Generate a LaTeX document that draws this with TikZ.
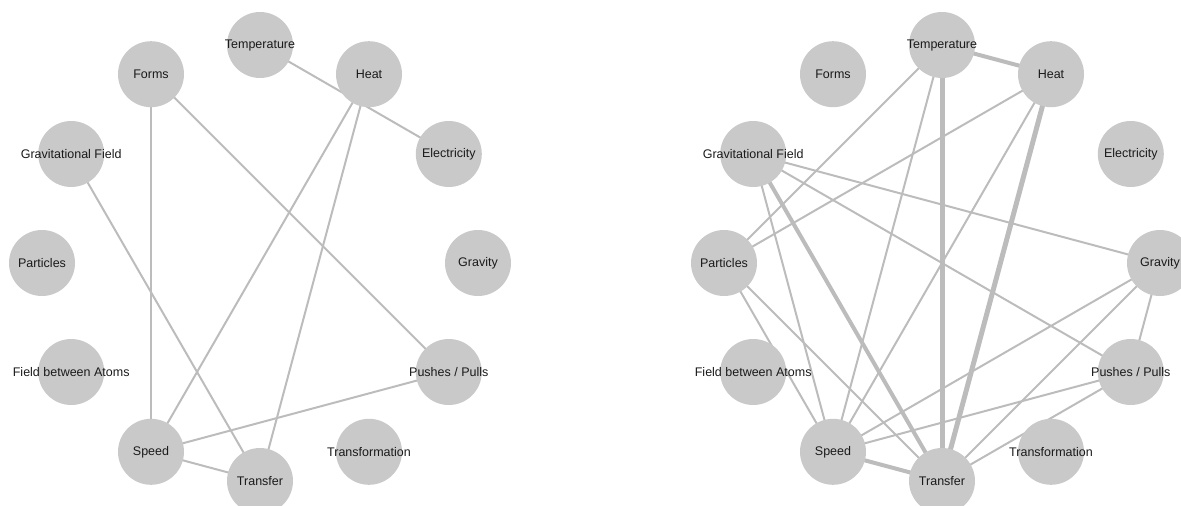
\documentclass[tikz,border=0pt]{standalone}
\usepackage{fontspec}
\setmainfont{Liberation Sans}
\definecolor{nodegray}{HTML}{C9C9C9}
\definecolor{edgegray}{HTML}{BCBCBC}
\definecolor{txt}{HTML}{1A1A1A}
\pgfdeclarelayer{bg}
\pgfsetlayers{bg,main}
\begin{document}
\begin{tikzpicture}[x=1pt,y=-1pt,
  labtext/.style={text=txt, font=\fontsize{12.5}{14}\selectfont, inner sep=0pt},
  concept/.style={circle, fill=nodegray, minimum size=66pt, inner sep=0pt, label={[labtext]center:#1}},
  link/.style={draw=edgegray, line width=2pt},
  strong/.style={draw=edgegray, line width=4pt},
  stronger/.style={draw=edgegray, line width=5pt}]
\useasboundingbox (0,0) rectangle (1181,506);
% ---------- left graph ----------
\node[concept=Temperature]          (LTemp)  at (260,45)     {};
\node[concept=Heat]                 (LHeat)  at (369,74.2)   {};
\node[concept=Electricity]          (LElec)  at (448.8,154)  {};
\node[concept=Gravity]              (LGrav)  at (478,263)    {};
\node[concept={Pushes / Pulls}]     (LPush)  at (448.8,372)  {};
\node[concept=Transformation]       (LTrfm)  at (369,451.8)  {};
\node[concept=Transfer]             (LTrsf)  at (260,481)    {};
\node[concept=Speed]                (LSpeed) at (151,451.8)  {};
\node[concept={Field between Atoms}] (LFba)  at (71.2,372)   {};
\node[concept=Particles]            (LPart)  at (42,263)     {};
\node[concept={Gravitational Field}] (LGf)   at (71.2,154)   {};
\node[concept=Forms]                (LForms) at (151,74.2)   {};
% ---------- right graph ----------
\node[concept=Temperature]          (RTemp)  at (942,45)      {};
\node[concept=Heat]                 (RHeat)  at (1051,74.2)   {};
\node[concept=Electricity]          (RElec)  at (1130.8,154)  {};
\node[concept=Gravity]              (RGrav)  at (1160,263)    {};
\node[concept={Pushes / Pulls}]     (RPush)  at (1130.8,372)  {};
\node[concept=Transformation]       (RTrfm)  at (1051,451.8)  {};
\node[concept=Transfer]             (RTrsf)  at (942,481)     {};
\node[concept=Speed]                (RSpeed) at (833,451.8)   {};
\node[concept={Field between Atoms}] (RFba)  at (753.2,372)   {};
\node[concept=Particles]            (RPart)  at (724,263)     {};
\node[concept={Gravitational Field}] (RGf)   at (753.2,154)   {};
\node[concept=Forms]                (RForms) at (833,74.2)    {};
\begin{pgfonlayer}{bg}
% left edges
\draw[link] (LTemp.center) -- (LElec.center);
\draw[link] (LHeat.center) -- (LSpeed.center);
\draw[link] (LHeat.center) -- (LTrsf.center);
\draw[link] (LForms.center) -- (LSpeed.center);
\draw[link] (LForms.center) -- (LPush.center);
\draw[link] (LGf.center) -- (LTrsf.center);
\draw[link] (LSpeed.center) -- (LTrsf.center);
\draw[link] (LSpeed.center) -- (LPush.center);
% right edges
\draw[strong]   (RTemp.center) -- (RHeat.center);
\draw[stronger] (RTemp.center) -- (RTrsf.center);
\draw[stronger] (RHeat.center) -- (RTrsf.center);
\draw[strong]   (RGf.center) -- (RTrsf.center);
\draw[strong]   (RSpeed.center) -- (RTrsf.center);
\draw[link] (RTemp.center) -- (RPart.center);
\draw[link] (RTemp.center) -- (RSpeed.center);
\draw[link] (RHeat.center) -- (RPart.center);
\draw[link] (RHeat.center) -- (RSpeed.center);
\draw[link] (RGf.center) -- (RGrav.center);
\draw[link] (RGf.center) -- (RPush.center);
\draw[link] (RGf.center) -- (RSpeed.center);
\draw[link] (RPart.center) -- (RSpeed.center);
\draw[link] (RPart.center) -- (RTrsf.center);
\draw[link] (RGrav.center) -- (RSpeed.center);
\draw[link] (RGrav.center) -- (RTrsf.center);
\draw[link] (RGrav.center) -- (RPush.center);
\draw[link] (RPush.center) -- (RSpeed.center);
\draw[link] (RPush.center) -- (RTrsf.center);
\end{pgfonlayer}
\end{tikzpicture}
\end{document}
